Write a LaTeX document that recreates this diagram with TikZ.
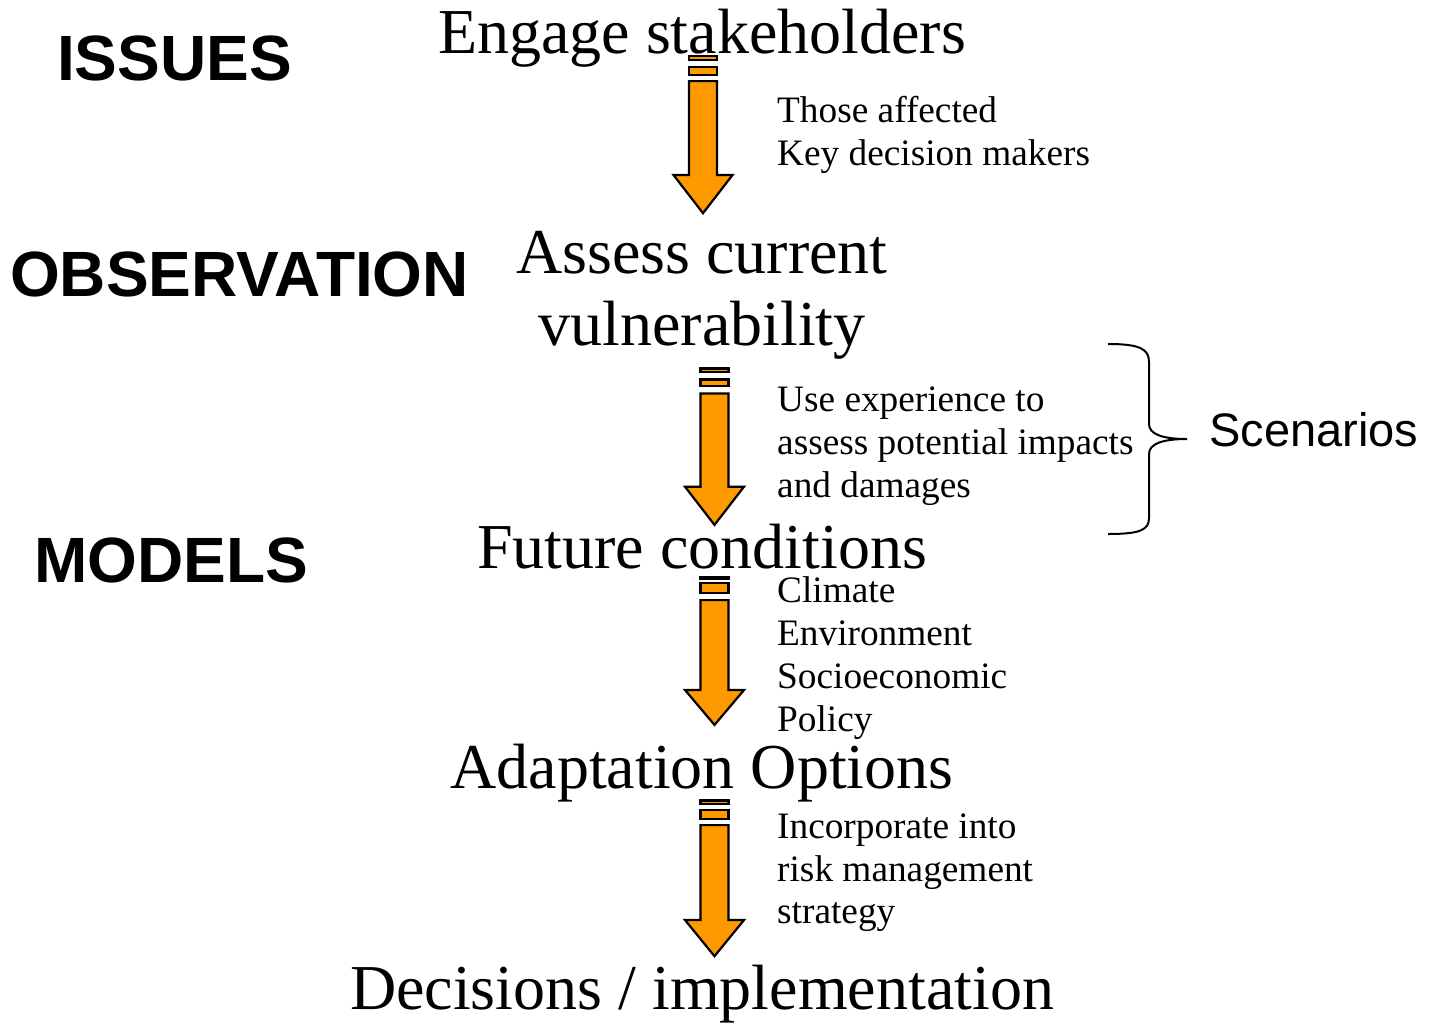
\documentclass[tikz,border=0pt]{standalone}
\usepackage{fontspec}
\setmainfont{Liberation Serif}
\newfontfamily\arialfont{Liberation Sans}
\definecolor{arroworange}{HTML}{FF9900}
\tikzset{
  blockpart/.style={draw=black, fill=arroworange, line width=2.2pt, line join=miter},
  title/.style={anchor=base, inner sep=0pt, font=\fontsize{64}{64}\selectfont},
  heading/.style={anchor=base west, inner sep=0pt, font=\arialfont\bfseries\fontsize{64}{64}\selectfont},
  note/.style={anchor=base west, inner sep=0pt, font=\fontsize{37.3}{43}\selectfont},
  bracestyle/.style={draw=black, line width=2pt},
}
% #1 centre x, #2 #3 stripe one, #4 #5 stripe two, #6 shaft top, #7 shaft bottom, #8 tip (outer edges)
\newcommand{\blockarrow}[8]{%
  \draw[blockpart] ({#1-14},{#2+1.1}) rectangle ({#1+14},{#3-1.1});
  \draw[blockpart] ({#1-14},{#4+1.1}) rectangle ({#1+14},{#5-1.1});
  \draw[blockpart] ({#1-14},{#6+1.1}) -- ({#1+14},{#6+1.1}) -- ({#1+14},#7) -- ({#1+29.5},#7)
     -- (#1,{#8-1.8}) -- ({#1-29.5},#7) -- ({#1-14},#7) -- cycle;
}
\begin{document}
\begin{tikzpicture}[x=1pt, y=-1pt]
\useasboundingbox (0,0) rectangle (1438,1023);
\fill[white] (0,0) rectangle (1438,1023);

% headings
\node[heading] (issues) at (57,80) {ISSUES};
\node[heading] (observation) at (10,296) {OBSERVATION};
\node[heading] (models) at (34,582) {MODELS};

% main steps
\node[title] (engage) at (702,53) {Engage stakeholders};
\node[title] (assess1) at (702,273) {Assess current};
\node[title] (assess2) at (702,345) {vulnerability};
\node[title] (future) at (702,568) {Future conditions};
\node[title] (adapt) at (702,788) {Adaptation Options};
\node[title] (decide) at (702,1009) {Decisions / implementation};

% arrows
\blockarrow{703}{55}{60.7}{65.7}{75.7}{80}{175}{215}
\blockarrow{714.5}{367.3}{372.7}{378.3}{387.3}{392.3}{486.7}{526.7}
\blockarrow{714.5}{575.7}{580}{582}{594}{599}{690}{726.7}
\blockarrow{714.5}{799.3}{805}{809}{820}{824}{920}{958}

% notes
\node[note] (n1a) at (777,122) {Those affected};
\node[note] (n1b) at (777,165) {Key decision makers};
\node[note] (n2a) at (777,411) {Use experience to};
\node[note] (n2b) at (777,454) {assess potential impacts};
\node[note] (n2c) at (777,497) {and damages};
\node[note] (n3a) at (777,602) {Climate};
\node[note] (n3b) at (777,645) {Environment};
\node[note] (n3c) at (777,688) {Socioeconomic};
\node[note] (n3d) at (777,731) {Policy};
\node[note] (n4a) at (777,838) {Incorporate into};
\node[note] (n4b) at (777,881) {risk management};
\node[note] (n4c) at (777,923) {strategy};

% brace and scenarios
\draw[bracestyle] (1108,344) .. controls (1140,344) and (1149,349) .. (1149,362)
  -- (1149,424) .. controls (1149,434) and (1162,439) .. (1187,439)
  .. controls (1162,439) and (1149,444) .. (1149,454)
  -- (1149,518) .. controls (1149,530) and (1140,534) .. (1108,534);
\node[anchor=base west, inner sep=0pt, font=\arialfont\fontsize{47}{47}\selectfont] (scen) at (1209,446) {Scenarios};
\end{tikzpicture}
\end{document}
